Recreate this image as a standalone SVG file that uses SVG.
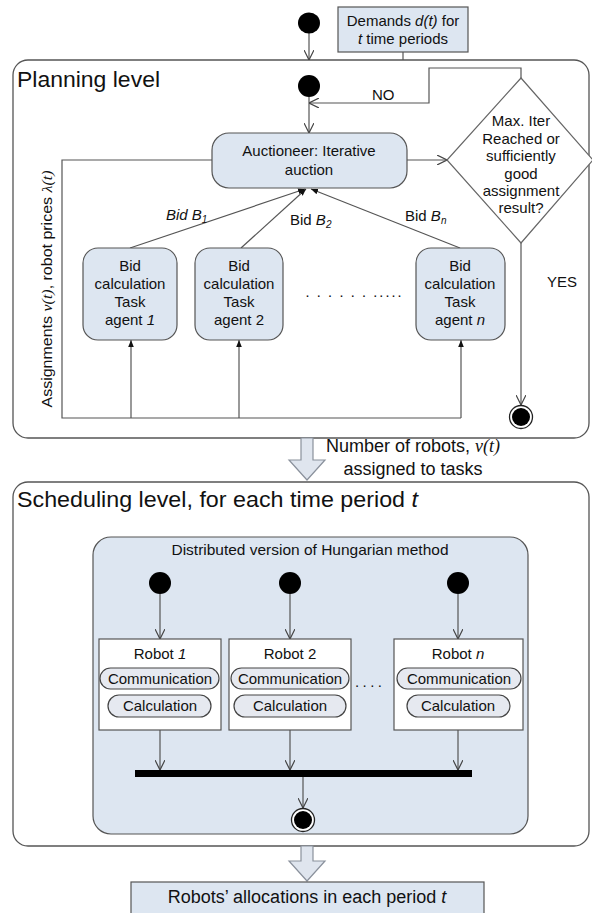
<svg xmlns="http://www.w3.org/2000/svg" width="592" height="913" viewBox="0 0 592 913">
<style>
text{font-family:"Liberation Sans",Arial,sans-serif;font-size:15px;fill:#111}
.h{font-size:22px}
.m{font-size:18px}
.c{text-anchor:middle}
.i{font-style:italic}
.s{font-family:"Liberation Serif","Times New Roman",serif;font-style:italic}
.frame{fill:#fff;stroke:#555;stroke-width:1.3}
.blue{fill:#dde6f1;stroke:#555;stroke-width:1.2}
.white{fill:#fff;stroke:#555;stroke-width:1.2}
.pill{fill:#e6e9f0;stroke:#444;stroke-width:1.2}
.ln{fill:none;stroke:#555;stroke-width:1.2}
.dot{fill:#000}
.blk{fill:#dfe5ee;stroke:#8a919c;stroke-width:1.2}
</style>
<defs>
<marker id="open" viewBox="0 0 10 10" refX="10" refY="5" markerWidth="10" markerHeight="10" markerUnits="userSpaceOnUse" orient="auto">
<path d="M0,0 L10,5 L0,10" fill="none" stroke="#444" stroke-width="1.2"/>
</marker>
<marker id="fill" viewBox="0 0 10 10" refX="10" refY="5" markerWidth="7" markerHeight="7" markerUnits="userSpaceOnUse" orient="auto">
<path d="M0,1 L10,5 L0,9 Z" fill="#111"/>
</marker>
</defs>

<!-- containers -->
<g id="planning">
<rect class="frame" x="13" y="60" width="576" height="378" rx="15"/>
<text class="h" x="17" y="87" textLength="143" lengthAdjust="spacingAndGlyphs">Planning level</text>
</g>
<g id="scheduling">
<rect class="frame" x="13" y="482" width="576" height="364" rx="15"/>
<text class="h" x="17" y="507" textLength="401" lengthAdjust="spacingAndGlyphs">Scheduling level, for each time period <tspan class="i">t</tspan></text>
</g>
<g id="hungarian">
<rect class="blue" x="93" y="537" width="435" height="297" rx="18"/>
<text class="c" x="310" y="555" textLength="277" lengthAdjust="spacingAndGlyphs">Distributed version of Hungarian method</text>
</g>

<!-- connectors -->
<g id="connectors">
<line class="ln" x1="309" y1="33" x2="309" y2="60" marker-end="url(#open)"/>
<line class="ln" x1="403" y1="52" x2="403" y2="60"/>
<line class="ln" x1="309" y1="97" x2="309" y2="133" marker-end="url(#open)"/>
<polyline class="ln" points="521,78 521,68 429,68 429,103 309,103" marker-end="url(#open)"/>
<line class="ln" x1="407" y1="160" x2="447" y2="160" marker-end="url(#open)"/>
<line class="ln" x1="521" y1="243" x2="521" y2="405" marker-end="url(#open)"/>
<line class="ln" x1="130" y1="248" x2="305" y2="189" marker-end="url(#fill)"/>
<line class="ln" x1="241" y1="248" x2="306" y2="189" marker-end="url(#fill)"/>
<line class="ln" x1="460" y1="248" x2="311" y2="189" marker-end="url(#fill)"/>
<polyline class="ln" points="212,160 62,160 62,418 461,418"/>
<line class="ln" x1="131" y1="418" x2="131" y2="340" marker-end="url(#fill)"/>
<line class="ln" x1="239" y1="418" x2="239" y2="340" marker-end="url(#fill)"/>
<line class="ln" x1="461" y1="418" x2="461" y2="340" marker-end="url(#fill)"/>
<line class="ln" x1="160" y1="594" x2="160" y2="639" marker-end="url(#open)"/>
<line class="ln" x1="290" y1="594" x2="290" y2="639" marker-end="url(#open)"/>
<line class="ln" x1="458" y1="594" x2="458" y2="639" marker-end="url(#open)"/>
<line class="ln" x1="160" y1="730" x2="160" y2="770" marker-end="url(#open)"/>
<line class="ln" x1="290" y1="730" x2="290" y2="770" marker-end="url(#open)"/>
<line class="ln" x1="458" y1="730" x2="458" y2="770" marker-end="url(#open)"/>
<line class="ln" x1="303" y1="777" x2="303" y2="808" marker-end="url(#open)"/>
<path class="blk" d="M301,438 L313,438 L313,460 L325,460 L307,480 L289,460 L301,460 Z"/>
<path class="blk" d="M301,846 L313,846 L313,861 L325,861 L307,881 L289,861 L301,861 Z"/>
</g>

<!-- nodes -->
<g id="start-top"><ellipse class="dot" cx="309" cy="23" rx="11" ry="10.5"/></g>
<g id="demands">
<rect class="blue" x="338" y="7" width="130" height="45"/>
<text class="c" x="403" y="26" font-size="15.5">Demands <tspan class="i">d(t)</tspan> for</text>
<text class="c" x="403" y="44" font-size="15.5"><tspan class="i">t</tspan> time periods</text>
</g>
<g id="start-plan"><ellipse class="dot" cx="309" cy="86" rx="11" ry="11"/></g>
<g id="no-label"><text x="372" y="100">NO</text></g>
<g id="auction">
<rect class="blue" x="212" y="133" width="195" height="55" rx="17"/>
<text class="c" x="309" y="156">Auctioneer: Iterative</text>
<text class="c" x="309" y="175">auction</text>
</g>
<g id="decision">
<polygon points="521,78 593,160 521,243 447,160" fill="#fff" stroke="#666" stroke-width="1.2"/>
<text class="c" x="521" y="126">Max. Iter</text>
<text class="c" x="521" y="143.5">Reached or</text>
<text class="c" x="521" y="161">sufficiently</text>
<text class="c" x="521" y="178.5">good</text>
<text class="c" x="521" y="196">assignment</text>
<text class="c" x="521" y="213">result?</text>
</g>
<g id="bid-labels">
<text x="166" y="220" class="i">Bid B<tspan font-size="10" dy="3">1</tspan></text>
<text x="290" y="225">Bid <tspan class="i">B</tspan><tspan class="i" font-size="10" dy="3">2</tspan></text>
<text x="405" y="221">Bid <tspan class="i">B</tspan><tspan class="i" font-size="10" dy="3">n</tspan></text>
</g>
<g id="agent1">
<rect class="blue" x="83" y="248" width="94" height="92" rx="15"/>
<text class="c" x="130" y="271">Bid</text>
<text class="c" x="130" y="289">calculation</text>
<text class="c" x="130" y="307">Task</text>
<text class="c" x="130" y="325">agent <tspan class="i">1</tspan></text>
</g>
<g id="agent2">
<rect class="blue" x="195" y="248" width="88" height="92" rx="15"/>
<text class="c" x="239" y="271">Bid</text>
<text class="c" x="239" y="289">calculation</text>
<text class="c" x="239" y="307">Task</text>
<text class="c" x="239" y="325">agent 2</text>
</g>
<g id="agent-dots"><text x="305" y="300" textLength="97" lengthAdjust="spacing">·  ·  ·  ·  ·  ·  ·····</text></g>
<g id="agentn">
<rect class="blue" x="416" y="248" width="89" height="92" rx="15"/>
<text class="c" x="460" y="271">Bid</text>
<text class="c" x="460" y="289">calculation</text>
<text class="c" x="460" y="307">Task</text>
<text class="c" x="460" y="325">agent <tspan class="i">n</tspan></text>
</g>
<g id="yes-label"><text x="547" y="287">YES</text></g>
<g id="end-plan">
<circle cx="521" cy="417" r="11.5" fill="#fff" stroke="#222" stroke-width="1.3"/>
<circle class="dot" cx="521" cy="417" r="9"/>
</g>
<g id="assign-label">
<text transform="translate(52,289) rotate(-90)" class="c" font-size="16" textLength="237" lengthAdjust="spacingAndGlyphs">Assignments <tspan class="s">ν(t)</tspan>, robot prices <tspan class="s">λ(t)</tspan></text>
</g>
<g id="robots-label">
<text class="c m" x="413" y="452">Number of robots, <tspan class="s">ν(t)</tspan></text>
<text class="c m" x="413" y="475">assigned to tasks</text>
</g>

<g id="start-r1"><circle class="dot" cx="160" cy="583" r="11"/></g>
<g id="start-r2"><circle class="dot" cx="290" cy="583" r="11"/></g>
<g id="start-rn"><circle class="dot" cx="458" cy="583" r="11"/></g>

<g id="robot1">
<rect class="white" x="99" y="639" width="122" height="91"/>
<text class="c" x="160" y="659">Robot <tspan class="i">1</tspan></text>
<rect class="pill" x="100" y="668" width="119" height="21" rx="10.5"/>
<text class="c" x="160" y="684">Communication</text>
<rect class="pill" x="108" y="695" width="103" height="22" rx="11"/>
<text class="c" x="160" y="711">Calculation</text>
</g>
<g id="robot2">
<rect class="white" x="229" y="639" width="122" height="91"/>
<text class="c" x="290" y="659">Robot 2</text>
<rect class="pill" x="231" y="668" width="118" height="21" rx="10.5"/>
<text class="c" x="290" y="684">Communication</text>
<rect class="pill" x="234" y="695" width="112" height="22" rx="11"/>
<text class="c" x="290" y="711">Calculation</text>
</g>
<g id="robot-dots"><text x="355" y="687" textLength="27" lengthAdjust="spacing">....</text></g>
<g id="robotn">
<rect class="white" x="394" y="639" width="129" height="91"/>
<text class="c" x="458" y="659">Robot <tspan class="i">n</tspan></text>
<rect class="pill" x="397" y="668" width="124" height="21" rx="10.5"/>
<text class="c" x="459" y="684">Communication</text>
<rect class="pill" x="407" y="695" width="103" height="22" rx="11"/>
<text class="c" x="458" y="711">Calculation</text>
</g>
<g id="join-bar"><rect x="135" y="770" width="337" height="7" fill="#000"/></g>
<g id="end-sched">
<circle cx="303" cy="820" r="11.5" fill="#fff" stroke="#222" stroke-width="1.3"/>
<circle class="dot" cx="303" cy="820" r="9"/>
</g>
<g id="allocations">
<rect class="blue" x="131" y="882" width="353" height="40"/>
<text class="c m" x="307" y="903">Robots’ allocations in each period <tspan class="i">t</tspan></text>
</g>
</svg>
